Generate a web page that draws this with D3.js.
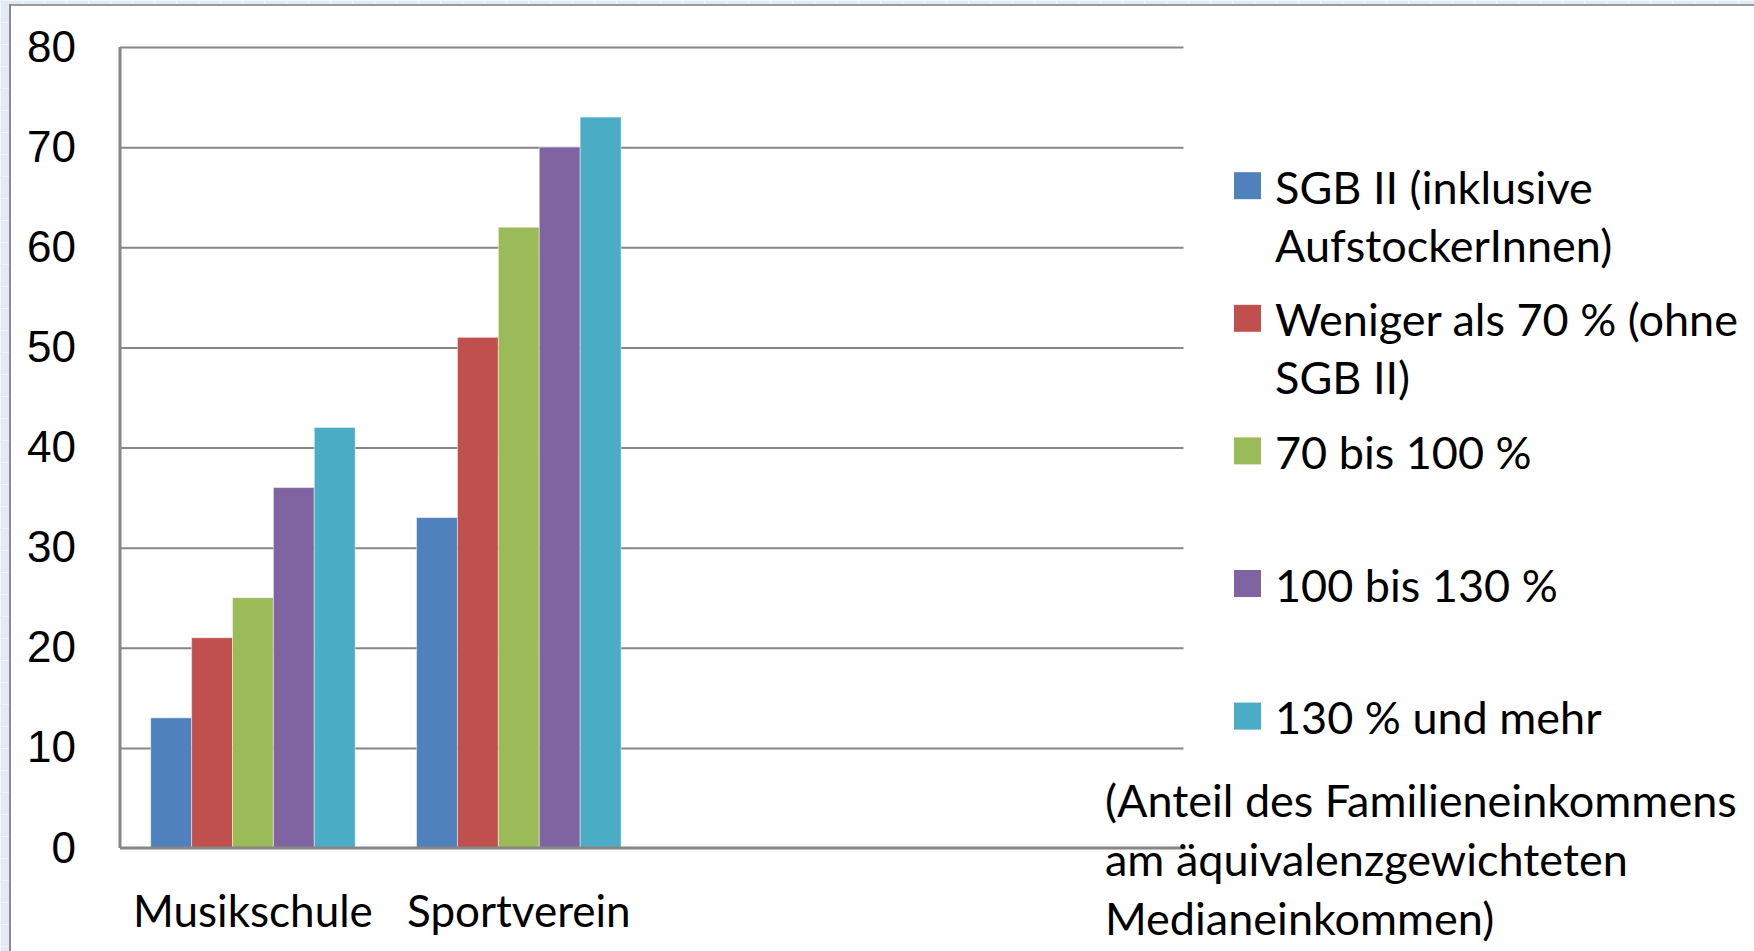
<!DOCTYPE html>
<html>
<head>
<meta charset="utf-8">
<script src="https://cdn.jsdelivr.net/npm/d3@7"></script>
<style>
  html, body { margin: 0; padding: 0; background: #e3eaf5; }
  svg { display: block; }
</style>
</head>
<body>
<div id="chart"></div>
<script>
// categories (the two empty slots are part of the original axis)
var categories = ["Musikschule", "Sportverein", "", ""];
var seriesNames = ["SGB II", "Weniger als 70 %", "70 bis 100 %", "100 bis 130 %", "130 % und mehr"];
var sgb2 = [13, 33];
var unter70 = [21, 51];
var von70bis100 = [25, 62];
var von100bis130 = [36, 70];
var ab130 = [42, 73];
var yTicks = [0, 10, 20, 30, 40, 50, 60, 70, 80];
var legendLines = [
    ["SGB II (inklusive", "AufstockerInnen)"],
    ["Weniger als 70 % (ohne", "SGB II)"],
    ["70 bis 100 %"],
    ["100 bis 130 %"],
    ["130 % und mehr"]
];
var noteLines = ["(Anteil des Familieneinkommens", "am äquivalenzgewichteten", "Medianeinkommen)"];
var colors = ["#4f81bd", "#c0504d", "#9bbb59", "#8064a2", "#4bacc6"];

var values = [sgb2, unter70, von70bis100, von100bis130, ab130];

var W = 1754, H = 951;
var margin = {top: 47, left: 120, right: 570.5, bottom: 103};
var width = W - margin.left - margin.right,
    height = H - margin.top - margin.bottom;

var svg = d3.select("#chart").append("svg")
    .attr("width", W)
    .attr("height", H);

// faint grid pattern outside the chart frame
var pat = svg.append("defs").append("pattern")
    .attr("id", "bg")
    .attr("width", 22).attr("height", 22)
    .attr("patternUnits", "userSpaceOnUse");
pat.append("rect").attr("width", 22).attr("height", 22).attr("fill", "#e3eaf5");
pat.append("path").attr("d", "M0 0.5H22M0.5 0V22").attr("stroke", "#f3f6fb").attr("stroke-width", 1);
svg.append("rect").attr("width", W).attr("height", H).attr("fill", "url(#bg)");

svg.append("rect")
    .attr("x", 11).attr("y", 6)
    .attr("width", W - 11).attr("height", H - 6)
    .attr("fill", "#fff");
svg.append("line").attr("x1", 10).attr("x2", W).attr("y1", 5).attr("y2", 5)
    .attr("stroke", "#9a9a9a").attr("stroke-width", 2);
svg.append("line").attr("x1", 10).attr("x2", 10).attr("y1", 4).attr("y2", H)
    .attr("stroke", "#8a8a8a").attr("stroke-width", 2);

var g = svg.append("g").attr("transform", "translate(" + margin.left + "," + margin.top + ")");

var x0 = d3.scaleBand()
    .domain(d3.range(categories.length))
    .range([0, width])
    .paddingInner(1.5 / 6.5)
    .paddingOuter(0.75 / 6.5);

var x1 = d3.scaleBand()
    .domain(d3.range(seriesNames.length))
    .range([0, x0.bandwidth()]);

var y = d3.scaleLinear()
    .domain([0, 80])
    .range([height, 0]);

// gridlines
g.append("g")
    .attr("class", "grid")
    .call(d3.axisLeft(y).tickValues(yTicks.slice(1)).tickSize(-width).tickFormat(""))
    .call(function(s) {
        s.select(".domain").remove();
        s.selectAll("line").attr("stroke", "#868686").attr("stroke-width", 2);
    });

// bars
g.append("g")
    .selectAll("g")
    .data(categories.slice(0, sgb2.length))
    .enter().append("g")
    .attr("transform", function(d, i) { return "translate(" + x0(i) + ",0)"; })
    .selectAll("rect")
    .data(function(d, i) { return values.map(function(v, k) { return {k: k, value: v[i]}; }); })
    .enter().append("rect")
    .attr("x", function(d) { return x1(d.k); })
    .attr("y", function(d) { return y(d.value); })
    .attr("width", x1.bandwidth())
    .attr("height", function(d) { return height - y(d.value); })
    .attr("fill", function(d) { return colors[d.k]; })
    .attr("stroke", "rgba(255,255,255,0.45)")
    .attr("stroke-width", 1);

// y axis labels
g.append("g")
    .call(d3.axisLeft(y).tickValues(yTicks).tickSize(0).tickPadding(44))
    .call(function(s) {
        s.select(".domain").remove();
        s.selectAll("text")
            .attr("font-family", "'Liberation Sans', Arial, sans-serif")
            .attr("font-size", 44)
            .attr("fill", "#000");
    });

// x axis labels
g.append("g")
    .attr("transform", "translate(0," + height + ")")
    .call(d3.axisBottom(x0).tickSize(0).tickFormat(function(i) { return categories[i]; }))
    .call(function(s) {
        s.select(".domain").remove();
        s.selectAll("text")
            .attr("y", 79)
            .attr("dy", null)
            .attr("font-family", "Lato, sans-serif")
            .attr("font-size", 44)
            .attr("fill", "#000");
    });

// axis lines
g.append("line")
    .attr("x1", 0).attr("x2", 0).attr("y1", 0).attr("y2", height)
    .attr("stroke", "#868686").attr("stroke-width", 3);
g.append("line")
    .attr("x1", 0).attr("x2", width + 2).attr("y1", height).attr("y2", height)
    .attr("stroke", "#868686").attr("stroke-width", 3);

// legend
var legend = svg.append("g")
    .attr("font-family", "Lato, sans-serif")
    .attr("font-size", 45)
    .selectAll("g")
    .data(legendLines)
    .enter().append("g")
    .attr("transform", function(d, i) { return "translate(1234," + (185.7 + i * 132.6) + ")"; });

legend.append("rect")
    .attr("y", -13.5)
    .attr("width", 27)
    .attr("height", 27)
    .attr("fill", function(d, i) { return colors[i]; });

legend.append("text")
    .attr("x", 41)
    .attr("y", 18)
    .selectAll("tspan")
    .data(function(d) { return d; })
    .enter().append("tspan")
    .attr("x", 41)
    .attr("dy", function(d, i) { return i ? 58 : 0; })
    .text(function(d) { return d; });

svg.append("text")
    .attr("font-family", "Lato, sans-serif")
    .attr("font-size", 45)
    .attr("y", 817)
    .selectAll("tspan")
    .data(noteLines)
    .enter().append("tspan")
    .attr("x", 1105)
    .attr("dy", function(d, i) { return i ? 59 : 0; })
    .text(function(d) { return d; });
</script>
</body>
</html>
